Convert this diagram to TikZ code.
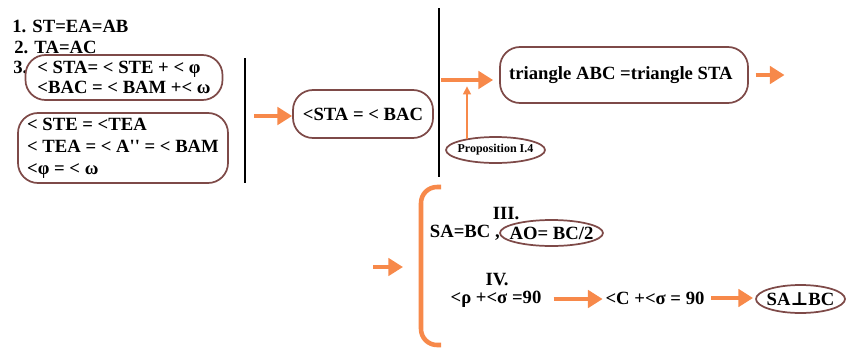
\documentclass[tikz,border=0pt]{standalone}
\usepackage{fontspec}
\setmainfont{Liberation Serif}
\newfontfamily\perpfont{DejaVu Serif}
\usetikzlibrary{arrows.meta,positioning,shapes.geometric}
\definecolor{arrorange}{HTML}{F7894A}
\definecolor{boxbrown}{HTML}{7E4A48}

\tikzset{
  every node/.style={font=\bfseries\fontsize{14}{16.5}\selectfont, inner sep=0pt},
  stepbox/.style={draw=boxbrown, line width=1.3pt, rounded corners=15pt, align=left},
  ovalline/.style={draw=boxbrown, line width=1.3pt},
  fatarrow/.style={draw=arrorange, line width=3pt, -{Triangle[length=11pt,width=13pt]}},
  thinarrow/.style={draw=arrorange, line width=1.1pt, -{Triangle[length=6pt,width=6pt]}},
  divider/.style={line width=1.4pt},
}

\begin{document}
\begin{tikzpicture}[x=0.75pt,y=-0.75pt]
\useasboundingbox (0,0) rectangle (849,350);

% givens
\node[anchor=west] (l1) at (12,26) {1. ST=EA=AB};
\node[anchor=west] (l2) at (14,47) {2. TA=AC};
\node[anchor=west] (l3) at (13,67) {3.};
\node[stepbox, minimum width=147.75pt, minimum height=33.75pt, font=\bfseries\fontsize{14}{14.5}\selectfont]
  (sum) at (124,77.5) {< STA= < STE + < φ\\ <BAC = < BAM +< ω};
\node[stepbox, minimum width=157.5pt, minimum height=52.5pt]
  (eq) at (123,148) {< STE = <TEA\\< TEA = < A\textquotesingle\textquotesingle{} = < BAM\\<φ = < ω};
\draw[divider] (245,58) -- (245,183);

% angle STA = BAC
\coordinate (a1) at (254,116);
\node[stepbox, minimum width=105pt, minimum height=36pt] (sta) at (363,114) {<STA = < BAC};
\draw[fatarrow] (a1) -- (a1 -| sta.west);
\draw[divider] (439,8) -- (439,177);

% congruent triangles
\node[stepbox, minimum width=186pt, minimum height=42pt] (tri) at (624,75) {triangle ABC =triangle STA\,\,};
\coordinate (a2) at (441,80);
\draw[fatarrow] (a2) -- ([xshift=-4.5pt]a2 -| tri.west);
\node[font=\bfseries\fontsize{9}{10}\selectfont] (prop) at (495.5,150) {Proposition I.4};
\draw[ovalline] (prop.center) ellipse [x radius=49.5, y radius=13];
\draw[thinarrow] ([shift={(-28.5,-10.6)}]prop.center) -- ++(0,-53);
\draw[fatarrow] ([xshift=5pt]tri.east) -- ++(29,0);

% parts III and IV
\coordinate (a3) at (373,267);
\draw[fatarrow] (a3) -- ++(30,0);
\draw[arrorange, line width=3.4pt, rounded corners=12pt] (441,187) -- (421,187) -- (421,345) -- (441,345);
\node (h3) at (506,214) {III.};
\node[anchor=east] (sabc) at (500,233) {SA=BC ,};
\node (ao) at (551.5,233) {AO= BC/2};
\draw[ovalline] (ao.center) ellipse [x radius=51.5, y radius=13];
\node (h4) at (497,280) {IV.};
\node (rho) at (496,299) {<ρ +<σ =90};
\node (cs) at (655,298) {<C +<σ = 90};
\node (perp) at (800.5,299) {SA{\perpfont ⊥}BC};
\draw[ovalline] (perp.center) ellipse [x radius=44.5, y radius=14];
\draw[fatarrow, shorten <=9pt, shorten >=2pt] (rho.east) -- (rho.east -| cs.west);
\draw[fatarrow, shorten <=5pt, shorten >=10pt] (cs.east) -- (cs.east -| perp.west);
\end{tikzpicture}
\end{document}
